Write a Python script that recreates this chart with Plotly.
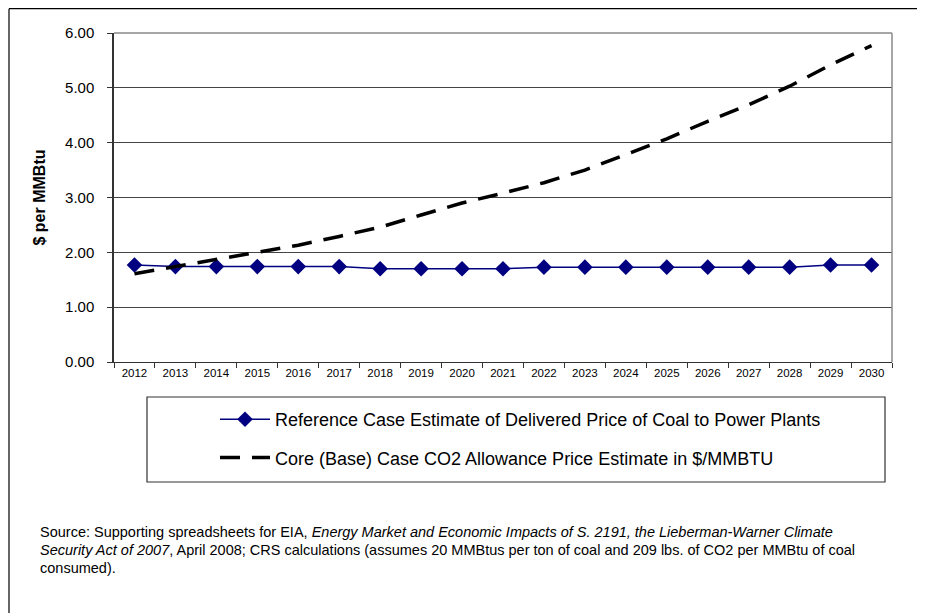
import plotly.graph_objects as go

years = [str(y) for y in range(2012, 2031)]
coal_price = [1.77, 1.74, 1.74, 1.74, 1.74, 1.74, 1.70, 1.70, 1.70, 1.70,
              1.73, 1.73, 1.73, 1.73, 1.73, 1.73, 1.73, 1.77, 1.77]
co2_price = [1.61, 1.74, 1.86, 1.99, 2.13, 2.29, 2.46, 2.68, 2.90, 3.08,
             3.27, 3.50, 3.79, 4.07, 4.39, 4.69, 5.03, 5.42, 5.77]

# the page body has an 8px margin, so the figure is drawn 8px in
OFF = 8
W, H = 925 - OFF, 613 - OFF
L, R, T, B = 114 - OFF, 33, 33 - OFF, 251
pw, ph = W - L - R, H - T - B


def px(x):
    # x in screenshot pixels -> paper
    return (x - OFF - L) / pw


def py(y):
    return (H - B - (y - OFF)) / ph


fig = go.Figure()
fig.add_trace(go.Scatter(
    x=years, y=coal_price, mode="lines+markers",
    name="Reference Case Estimate of Delivered Price of Coal to Power Plants",
    line=dict(color="#000080", width=1.5),
    marker=dict(symbol="diamond", size=12, color="#000080"),
    legendgroup="a"))
fig.add_trace(go.Scatter(
    x=years, y=co2_price, mode="lines",
    name="Core (Base) Case CO2 Allowance Price Estimate in $/MMBTU",
    line=dict(color="black", width=3.5, dash="20px,12px"),
    legendgroup="b"))

font = "Liberation Sans, Arial, sans-serif"
fig.update_layout(
    width=W, height=H,
    margin=dict(l=L, r=R, t=T, b=B, autoexpand=False),
    paper_bgcolor="white", plot_bgcolor="white",
    font=dict(family=font, color="black"),
    showlegend=True,
    legend=dict(x=px(215), y=py(401), xanchor="left", yanchor="top",
                font=dict(size=18), bgcolor="rgba(0,0,0,0)",
                tracegroupgap=12, itemwidth=50),
    xaxis=dict(type="category", range=[-0.5, 18.5], showgrid=False,
               ticks="outside", ticklen=5, tickson="boundaries",
               tickcolor="#333", showline=True, linecolor="#333",
               linewidth=1.2, tickfont=dict(size=11.5)),
    yaxis=dict(range=[0, 6], dtick=1, tickformat=".2f", showgrid=True,
               gridcolor="#444", gridwidth=1, ticks="outside", ticklen=5,
               tickcolor="#333", showline=True, linecolor="#333",
               linewidth=1.5, tickfont=dict(size=15), ticklabelstandoff=10,
               title=dict(text="<b>$ per MMBtu</b>", font=dict(size=16),
                          standoff=15)),
)

# plot area border (top/right)
fig.add_shape(type="line", xref="paper", yref="paper", x0=0, x1=1, y0=1, y1=1,
              line=dict(color="#888", width=1.5))
fig.add_shape(type="line", xref="paper", yref="paper", x0=1, x1=1, y0=0, y1=1,
              line=dict(color="#888", width=1.5))
# legend box
fig.add_shape(type="rect", xref="paper", yref="paper",
              x0=px(147), x1=px(885), y0=py(482), y1=py(397),
              line=dict(color="#333", width=1.2))
# outer frame (top edge sits right at the figure's top)
fig.add_shape(type="line", xref="paper", yref="paper",
              x0=px(9), x1=px(930), y0=py(OFF + 0.7), y1=py(OFF + 0.7),
              line=dict(color="black", width=1.2))
fig.add_shape(type="line", xref="paper", yref="paper",
              x0=px(9), x1=px(9), y0=py(OFF + 0.7), y1=py(620),
              line=dict(color="black", width=1.2))

source_lines = [
    "Source: Supporting spreadsheets for EIA, <i>Energy Market and Economic Impacts of S. 2191, the Lieberman-Warner Climate</i>",
    "<i>Security Act of 2007</i>, April 2008; CRS calculations (assumes 20 MMBtus per ton of coal and 209 lbs. of CO2 per MMBtu of coal",
    "consumed).",
]
for i, line in enumerate(source_lines):
    fig.add_annotation(text=line, xref="paper", yref="paper",
                       x=px(38), y=py(532 + 18 * i), xanchor="left",
                       yanchor="middle", showarrow=False,
                       font=dict(size=14.5, family=font))

fig.write_html("out.html")
